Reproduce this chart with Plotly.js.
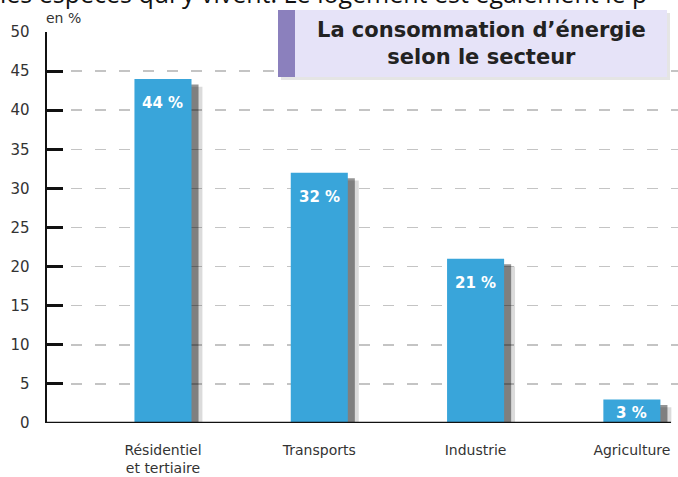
<!DOCTYPE html>
<html>
<head>
<meta charset="utf-8">
<script src="https://cdn.plot.ly/plotly-3.0.1.min.js"></script>
<style>html,body{margin:0;padding:0;background:#fff;}#chart{width:678px;height:477px;}</style>
</head>
<body>
<div id="chart"></div>
<script>
const categories = ["Résidentiel<br>et tertiaire", "Transports", "Industrie", "Agriculture"];
const values = [44, 32, 21, 3];
const valueLabels = ["44 %", "32 %", "21 %", "3 %"];
const yTicks = [0, 5, 10, 15, 20, 25, 30, 35, 40, 45, 50];
const chartTitle = "La consommation d’énergie<br>selon le secteur";
const unitLabel = "en %";
const cutText = "les espèces qui y vivent. Le logement est également le p";

const idx = categories.map((c, i) => i);
const barW = 0.365;

const shadow1 = {
  type: 'bar', x: idx, y: values.map(v => Math.max(v - 1.0, 0.5) + 1.1), base: -1.1,
  width: barW, offset: -barW / 2 + 0.07,
  marker: {color: 'rgba(0,0,0,0.14)', line: {width: 0}},
  hoverinfo: 'skip', showlegend: false
};
const shadow2 = {
  type: 'bar', x: idx, y: values.map(v => Math.max(v - 0.7, 0.7) + 0.7), base: -0.7,
  width: barW, offset: -barW / 2 + 0.045,
  marker: {color: 'rgba(0,0,0,0.42)', line: {width: 0}},
  hoverinfo: 'skip', showlegend: false
};
const bars = {
  type: 'bar', x: idx, y: values,
  width: barW, offset: -barW / 2,
  marker: {color: '#39a5da', line: {width: 0}},
  hoverinfo: 'skip', showlegend: false
};

const px = p => (p - 47) / 631;
const py = p => (423 - p) / 391;
const pxPerUnit = 391 / 50;

const labelAnns = values.map((v, i) => ({
  xref: 'x', yref: 'y', x: i, y: v, xanchor: 'center', yanchor: 'top',
  yshift: -Math.min(13, Math.max(0, (v * pxPerUnit - 19) / 2)),
  text: valueLabels[i], showarrow: false,
  font: {family: 'DejaVu Sans', size: 15, color: '#ffffff', weight: 'bold'}
}));

const layout = {
  width: 678, height: 477,
  margin: {l: 47, r: 0, t: 32, b: 54},
  paper_bgcolor: '#ffffff', plot_bgcolor: '#ffffff',
  barmode: 'overlay',
  xaxis: {
    range: [-0.742, 3.295], tickvals: idx, ticktext: categories,
    showgrid: false, zeroline: false,
    showline: false,
    ticks: '', ticklabelstandoff: 17,
    tickfont: {family: 'DejaVu Sans', size: 14, color: '#333'}
  },
  yaxis: {
    range: [0, 50], tickvals: yTicks,
    showgrid: true, gridcolor: '#c4c4c4', gridwidth: 1.5, griddash: '11px,13px',
    zeroline: false, showline: true, linecolor: '#111', linewidth: 2.5,
    ticks: 'inside', ticklen: 16, tickwidth: 3, tickcolor: '#111',
    ticklabelstandoff: 12,
    tickfont: {family: 'DejaVu Sans', size: 15, color: '#333'}
  },
  shapes: [
    {type: 'line', xref: 'paper', yref: 'y', x0: 0, x1: px(671), y0: 0, y1: 0,
     line: {color: '#111', width: 2.5}, layer: 'above'},
    {type: 'rect', xref: 'paper', yref: 'paper', x0: px(281), x1: px(670), y0: py(80), y1: py(13),
     fillcolor: 'rgba(0,0,0,0.10)', line: {width: 0}, layer: 'above'},
    {type: 'rect', xref: 'paper', yref: 'paper', x0: px(278), x1: px(667), y0: py(77), y1: py(10),
     fillcolor: '#e6e3f8', line: {width: 0}, layer: 'above'},
    {type: 'rect', xref: 'paper', yref: 'paper', x0: px(278), x1: px(295), y0: py(77), y1: py(10),
     fillcolor: '#8b80bd', line: {width: 0}, layer: 'above'}
  ],
  annotations: labelAnns.concat([
    {xref: 'paper', yref: 'paper', x: px(481), y: py(43), xanchor: 'center', yanchor: 'middle',
     text: chartTitle, showarrow: false,
     font: {family: 'DejaVu Sans', size: 21, color: '#222', weight: 'bold'}},
    {xref: 'paper', yref: 'paper', x: px(44), y: py(18), xanchor: 'left', yanchor: 'middle',
     text: unitLabel, showarrow: false,
     font: {family: 'DejaVu Sans', size: 14, color: '#333'}},
    {xref: 'paper', yref: 'paper', x: px(-2), y: py(-7), xanchor: 'left', yanchor: 'middle',
     text: cutText, showarrow: false,
     font: {family: 'Open Sans', size: 25, color: '#111'}}
  ])
};

Plotly.newPlot('chart', [shadow1, shadow2, bars], layout, {displayModeBar: false, staticPlot: true});
</script>
</body>
</html>
